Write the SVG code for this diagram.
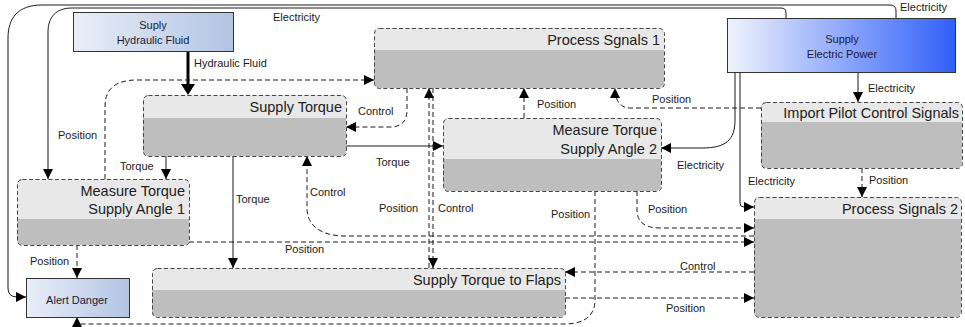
<svg xmlns="http://www.w3.org/2000/svg" width="965" height="327" viewBox="0 0 965 327">
<defs>
<linearGradient id="gBlue" x1="0" y1="0" x2="1" y2="0">
<stop offset="0" stop-color="#e9eef8"/><stop offset="1" stop-color="#b2c4e3"/>
</linearGradient>
<linearGradient id="gPower" x1="0" y1="0" x2="1" y2="0">
<stop offset="0" stop-color="#f0f3fc"/><stop offset="1" stop-color="#2f5ff9"/>
</linearGradient>
<marker id="ar" viewBox="0 0 10 10" refX="10" refY="5" markerWidth="11" markerHeight="10" markerUnits="userSpaceOnUse" orient="auto">
<path d="M0,0 L10,5 L0,10 Z" fill="#000"/>
</marker>
</defs>
<style>
.bx{stroke:#333;stroke-width:1}
.body{fill:#bebebe}
.head{fill:#e8e8e8}
.brd{fill:none;stroke:#444;stroke-width:1;stroke-dasharray:4,2.5}
.t{font-family:"Liberation Sans",Arial,sans-serif;font-size:14.5px;fill:#222;text-anchor:end}
.bt{font-family:"Liberation Sans",Arial,sans-serif;font-size:11px;fill:#1a1a3a;text-anchor:middle}
.l{font-family:"Liberation Sans",Arial,sans-serif;font-size:11px;fill:#1a1a1a}
.c{fill:none;stroke:#1a1a1a;stroke-width:1;marker-end:url(#ar)}
.cn{fill:none;stroke:#000;stroke-width:3}
.d{fill:none;stroke:#1a1a1a;stroke-width:1;stroke-dasharray:5,3;marker-end:url(#ar)}
</style>

<g id="connectors">
<path class="c" d="M896,18 V11 Q896,5 890,5 H42 C18,5 8,18 8,38 V288 Q8,297 17,297 H26"/>
<path class="c" d="M786,18 V13 Q786,8 781,8 H72 C56,8 48,17 48,32 V179"/>
<path class="cn" d="M188,51 V85"/>
<path fill="#000" d="M181,84 L195,84 L188,95 Z"/>
<path class="c" d="M858,72 V102"/>
<path class="c" d="M735,72 V120 C735,140 726,148 702,148 H661"/>
<path class="c" d="M740,72 V203 Q740,207 744,207 H754"/>
<path class="d" d="M407,88 V110 Q407,127 390,127 H346"/>
<path class="c" d="M346,146 H443"/>
<path class="d" d="M105,179 V106 C105,89 116,80 136,80 H374"/>
<path class="c" d="M166,156 V179"/>
<path class="c" d="M233,156 V268"/>
<path class="d" d="M754,236 H345 C320,236 307,225 307,208 V156"/>
<path class="d" d="M189,242 H754"/>
<path class="d" d="M77,245 V278"/>
<path class="d" d="M595,191 V300 C595,315 585,324 565,324 H77 V317"/>
<path class="d" d="M429,268 V88"/>
<path class="d" d="M433,88 V268"/>
<path class="d" d="M524,118 V88"/>
<path class="d" d="M761,108 H630 C620,108 615,100 615,88"/>
<path class="d" d="M862,168 V197"/>
<path class="d" d="M637,191 V210 C637,222 645,228 660,228 H754"/>
<path class="d" d="M754,272 H565"/>
<path class="d" d="M565,298 H754"/>

<text class="l" x="900" y="11">Electricity</text>
<text class="l" x="273" y="21">Electricity</text>
<text class="l" x="194" y="67">Hydraulic Fluid</text>
<text class="l" x="58" y="139">Position</text>
<text class="l" x="358" y="115">Control</text>
<text class="l" x="376" y="166">Torque</text>
<text class="l" x="120" y="170">Torque</text>
<text class="l" x="236" y="203">Torque</text>
<text class="l" x="310" y="196">Control</text>
<text class="l" x="285" y="253">Position</text>
<text class="l" x="30" y="265">Position</text>
<text class="l" x="379" y="212">Position</text>
<text class="l" x="438" y="212">Control</text>
<text class="l" x="551" y="218">Position</text>
<text class="l" x="537" y="108">Position</text>
<text class="l" x="652" y="103">Position</text>
<text class="l" x="868" y="92">Electricity</text>
<text class="l" x="677" y="169">Electricity</text>
<text class="l" x="748" y="185">Electricity</text>
<text class="l" x="869" y="184">Position</text>
<text class="l" x="648" y="213">Position</text>
<text class="l" x="680" y="270">Control</text>
<text class="l" x="666" y="312">Position</text>
</g>

<g id="supply-hydraulic-fluid">
<rect class="bx" x="73.5" y="12.5" width="160" height="39" fill="url(#gBlue)"/>
<text class="bt" x="153" y="29">Suply</text>
<text class="bt" x="153" y="44">Hydraulic Fluid</text>
</g>

<g id="supply-electric-power">
<rect class="bx" x="727.5" y="18.5" width="228" height="54" fill="url(#gPower)"/>
<text class="bt" x="842" y="43">Supply</text>
<text class="bt" x="842" y="58">Electric Power</text>
</g>

<g id="alert-danger">
<rect class="bx" x="26.5" y="278.5" width="103" height="39" fill="url(#gBlue)"/>
<text class="bt" x="77" y="304">Alert Danger</text>
</g>

<g id="process-signals-1">
<rect class="body" x="374" y="28" width="290" height="60" rx="5"/>
<path class="head" d="M374,50 V33 Q374,28 379,28 H659 Q664,28 664,33 V50 Z"/>
<rect class="brd" x="374.5" y="28.5" width="290" height="60" rx="5"/>
<text class="t" x="660" y="45">Process Sgnals 1</text>
</g>

<g id="supply-torque">
<rect class="body" x="143" y="95" width="203" height="61" rx="5"/>
<path class="head" d="M143,118 V100 Q143,95 148,95 H341 Q346,95 346,100 V118 Z"/>
<rect class="brd" x="143.5" y="95.5" width="203" height="61" rx="5"/>
<text class="t" x="342" y="112">Supply Torque</text>
</g>

<g id="measure-torque-2">
<rect class="body" x="443" y="118" width="218" height="73" rx="5"/>
<path class="head" d="M443,159 V123 Q443,118 448,118 H656 Q661,118 661,123 V159 Z"/>
<rect class="brd" x="443.5" y="118.5" width="218" height="73" rx="5"/>
<text class="t" x="657" y="135">Measure Torque</text>
<text class="t" x="657" y="154">Supply Angle 2</text>
</g>

<g id="measure-torque-1">
<rect class="body" x="17" y="179" width="172" height="66" rx="5"/>
<path class="head" d="M17,219 V184 Q17,179 22,179 H184 Q189,179 189,184 V219 Z"/>
<rect class="brd" x="17.5" y="179.5" width="172" height="66" rx="5"/>
<text class="t" x="185" y="196">Measure Torque</text>
<text class="t" x="185" y="214">Supply Angle 1</text>
</g>

<g id="import-pilot-control-signals">
<rect class="body" x="761" y="102" width="201" height="66" rx="5"/>
<path class="head" d="M761,122 V107 Q761,102 766,102 H957 Q962,102 962,107 V122 Z"/>
<rect class="brd" x="761.5" y="102.5" width="201" height="66" rx="5"/>
<text class="t" x="959" y="118">Import Pilot Control Signals</text>
</g>

<g id="process-signals-2">
<rect class="body" x="754" y="197" width="207" height="120" rx="5"/>
<path class="head" d="M754,219 V202 Q754,197 759,197 H956 Q961,197 961,202 V219 Z"/>
<rect class="brd" x="754.5" y="197.5" width="207" height="120" rx="5"/>
<text class="t" x="958" y="214">Process Signals 2</text>
</g>

<g id="supply-torque-to-flaps">
<rect class="body" x="152" y="268" width="413" height="49" rx="5"/>
<path class="head" d="M152,290 V273 Q152,268 157,268 H560 Q565,268 565,273 V290 Z"/>
<rect class="brd" x="152.5" y="268.5" width="413" height="49" rx="5"/>
<text class="t" x="561" y="285">Supply Torque to Flaps</text>
</g>
</svg>
